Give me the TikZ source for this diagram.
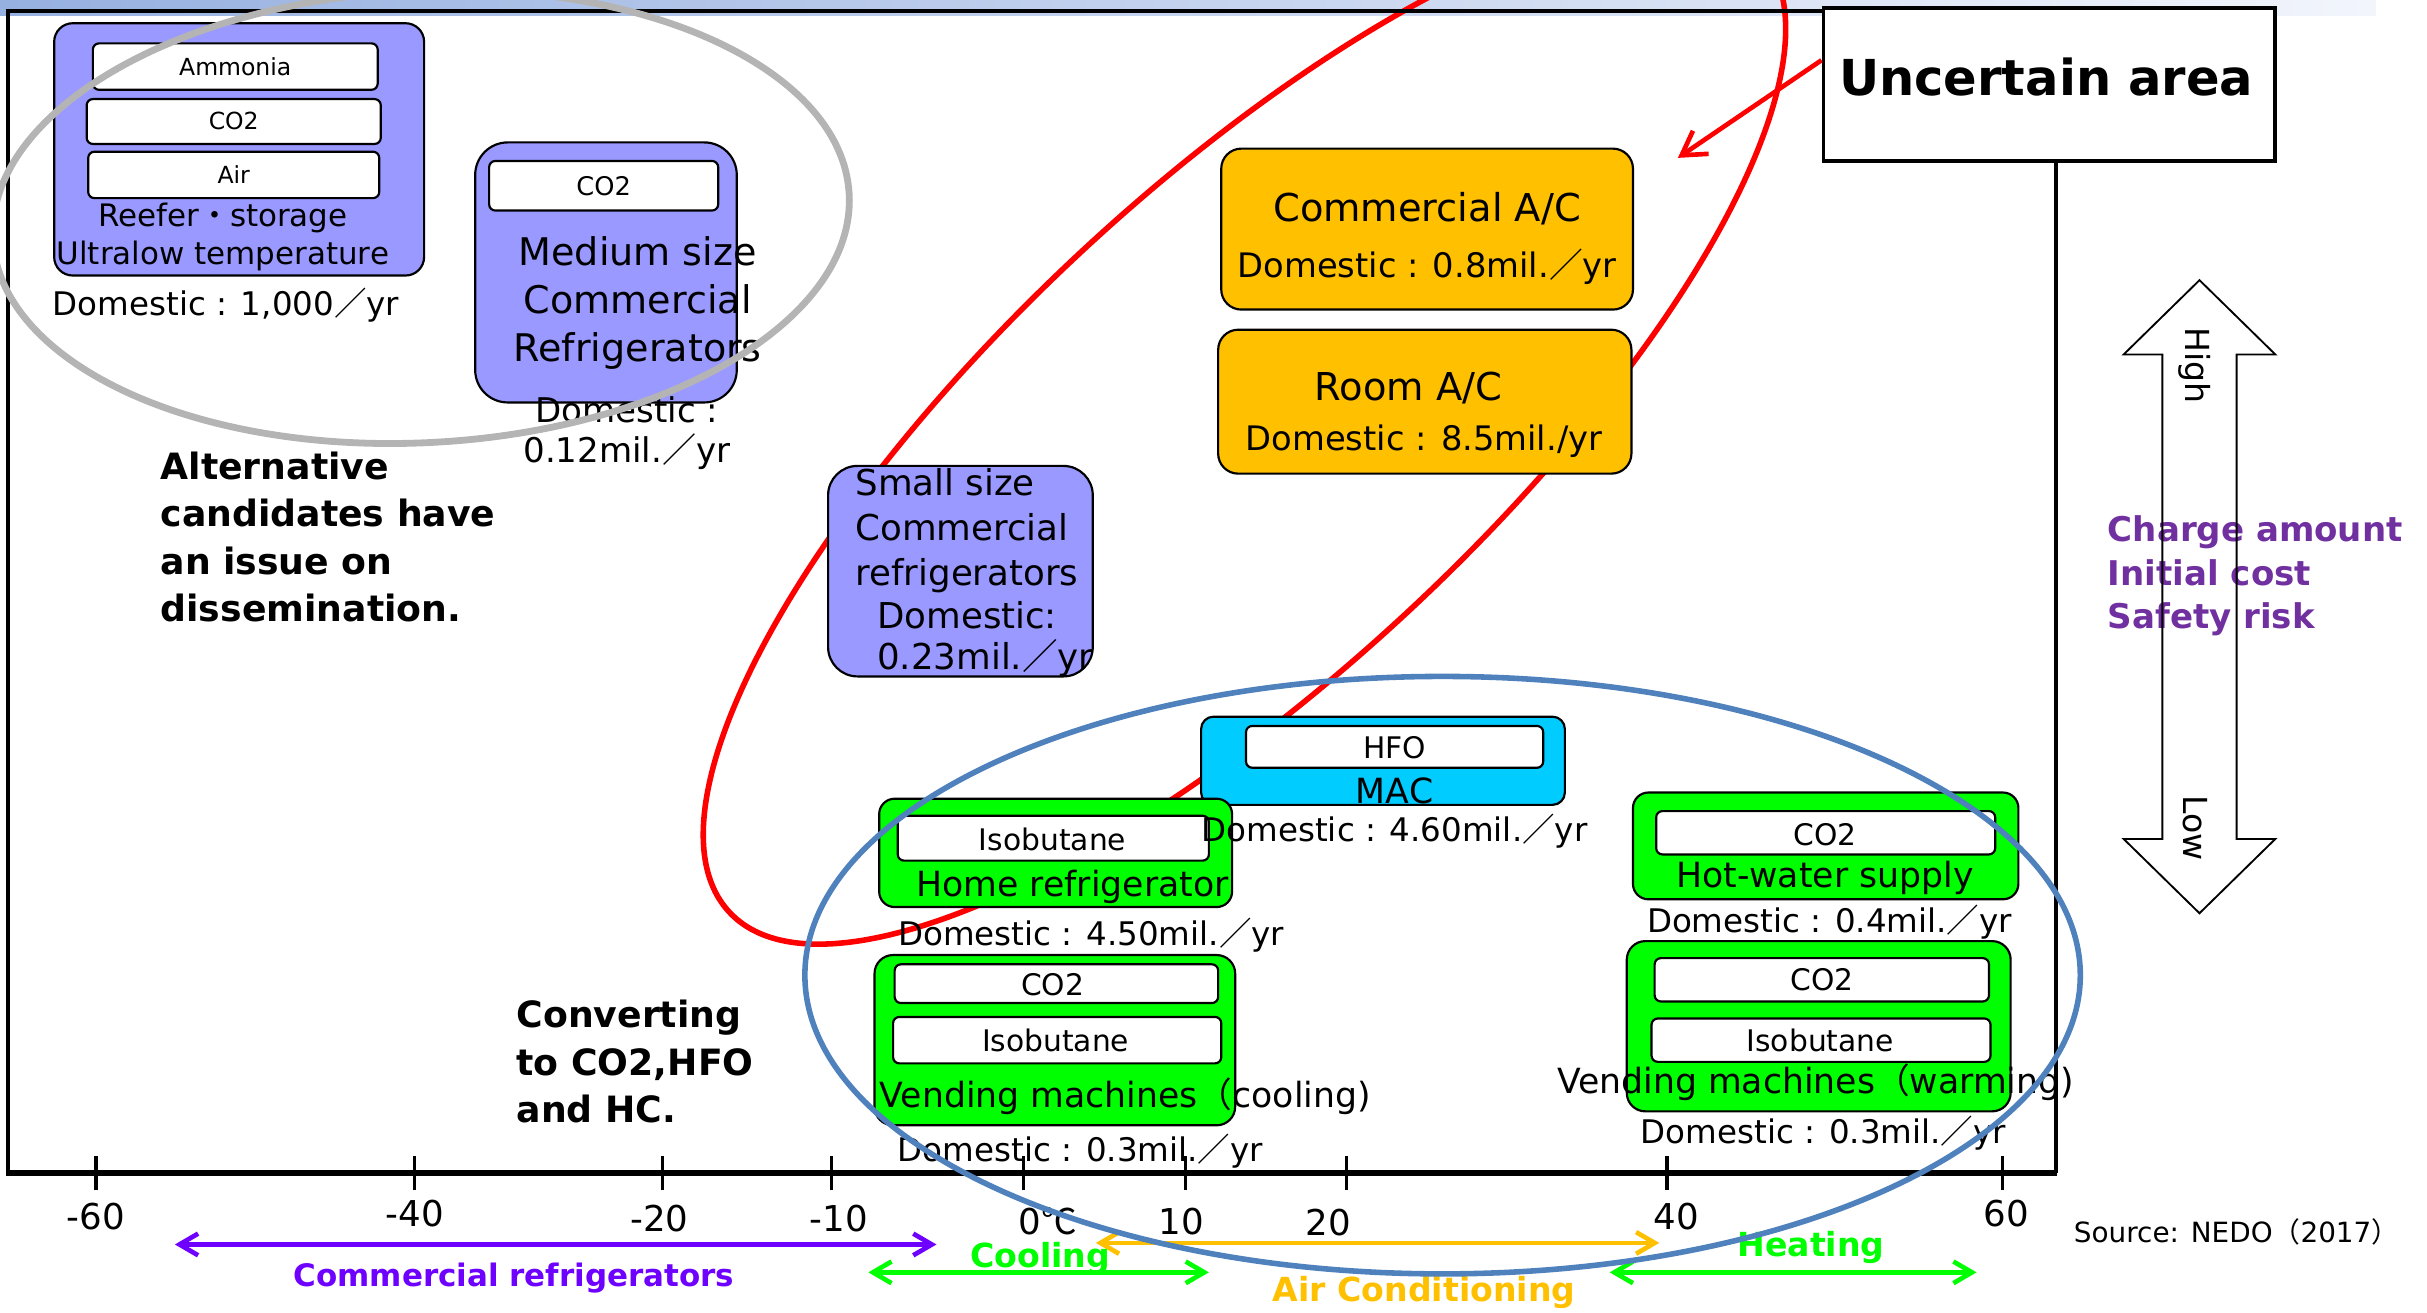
\documentclass[tikz,border=0pt]{standalone}
\usepackage{fontspec}
\setmainfont{DejaVu Sans}
\newfontfamily\cjk{Noto Sans CJK JP}
\usetikzlibrary{arrows.meta}

\newcommand{\zsl}{{\cjk ／}}
\newcommand{\zdot}{{\cjk ・}}
\newcommand{\zlp}{{\cjk （}}
\newcommand{\zrp}{{\cjk ）}}

\definecolor{boxpurple}{RGB}{153,153,255}
\definecolor{boxorange}{RGB}{255,192,0}
\definecolor{boxcyan}{RGB}{0,204,255}
\definecolor{boxgreen}{RGB}{0,255,0}
\definecolor{ringblue}{RGB}{79,129,189}
\definecolor{ringgray}{RGB}{180,180,180}
\definecolor{ringred}{RGB}{255,0,0}
\definecolor{notepurple}{RGB}{112,48,160}
\definecolor{rangeviolet}{RGB}{110,0,255}
\definecolor{bandleft}{RGB}{150,176,224}
\definecolor{bandright}{RGB}{242,245,252}

\tikzset{every picture/.style={line width=0.75pt}}
\tikzset{
  appbox/.style={draw=black, line width=0.7pt},
  gasbox/.style={draw=black, fill=white, line width=0.7pt, rounded corners=2pt},
  lbl/.style={inner sep=0.5pt, anchor=center},
  gassmall/.style={lbl, font=\fontsize{7.6}{9}\selectfont},
  gas/.style={lbl, font=\fontsize{9.6}{11}\selectfont},
  appname/.style={lbl, font=\fontsize{11.2}{13}\selectfont},
  domestic/.style={lbl, font=\fontsize{10.5}{13}\selectfont},
  note/.style={inner sep=0.5pt, anchor=west, align=left, font=\fontsize{11.7}{15.3}\selectfont\bfseries},
  ticklabel/.style={lbl, font=\fontsize{11.5}{13}\selectfont},
  rangelabel/.style={lbl, font=\fontsize{10.7}{13}\selectfont\bfseries},
  rangearrow/.style={line width=1.5pt, {Straight Barb[length=6pt,width=7pt]}-{Straight Barb[length=6pt,width=7pt]}},
  frameline/.style={draw=black, line width=1.3pt},
  tickline/.style={draw=black, line width=1pt},
}

\begin{document}
\begin{tikzpicture}[x=0.5pt,y=0.5pt,yscale=-1,xscale=1]
\useasboundingbox (0,0) rectangle (1568,848);
\clip (0,0) rectangle (1568,848);

%Shape: Band at the top
\shade[left color=bandleft, right color=bandright] (0,0) rectangle (1535,10);

%Shape: Ellipse (uncertain area)
\draw[ringred, line width=1.8pt, rotate around={-43:(804,279)}] (804,279) ellipse (455 and 157);

%Straight Lines: frame and axis
\draw[frameline] (5,758) -- (5,7) -- (1178,7);
\draw[frameline] (1328,104) -- (1328,758);
\draw[draw=black, line width=1.8pt] (4,758) -- (1329,758);

%Straight Lines: ticks
\draw[tickline] (62,747) -- (62,769);
\draw[tickline] (268,747) -- (268,769);
\draw[tickline] (428,747) -- (428,769);
\draw[tickline] (537,747) -- (537,769);
\draw[tickline] (661,747) -- (661,769);
\draw[tickline] (766,747) -- (766,769);
\draw[tickline] (870,747) -- (870,769);
\draw[tickline] (1077,747) -- (1077,769);
\draw[tickline] (1294,747) -- (1294,769);

%Shape: Rounded Rect, reefer
\draw[appbox, fill=boxpurple, rounded corners=6pt] (35,15) rectangle (274,178);
\draw[gasbox] (60,28) rectangle (244,58);
\draw[gasbox] (56,64) rectangle (246,93);
\draw[gasbox] (57,98) rectangle (245,128);
%Shape: Rounded Rect, medium size
\draw[appbox, fill=boxpurple, rounded corners=10.5pt] (307,92) rectangle (476,260);
\draw[gasbox] (316,104) rectangle (464,136);
%Shape: Rounded Rect, small size
\draw[appbox, fill=boxpurple, rounded corners=9.5pt] (535,301) rectangle (706,437);
%Shape: Rounded Rect, commercial A/C
\draw[appbox, fill=boxorange, rounded corners=6.5pt] (789,96) rectangle (1055,200);
%Shape: Rounded Rect, room A/C
\draw[appbox, fill=boxorange, rounded corners=6.5pt] (787,213) rectangle (1054,306);
%Shape: Rounded Rect, MAC
\draw[appbox, fill=boxcyan, rounded corners=4pt] (776,463) rectangle (1011,520);
\draw[gasbox] (805,469) rectangle (997,496);
%Shape: Rounded Rect, home refrigerator
\draw[appbox, fill=boxgreen, rounded corners=5pt] (568,516) rectangle (796,586);
\draw[gasbox] (580,527) rectangle (781,556);
%Shape: Rounded Rect, vending cooling
\draw[appbox, fill=boxgreen, rounded corners=6pt] (565,617) rectangle (798,727);
\draw[gasbox] (578,623) rectangle (787,648);
\draw[gasbox] (577,657) rectangle (789,687);
%Shape: Rounded Rect, hot-water
\draw[appbox, fill=boxgreen, rounded corners=5pt] (1055,512) rectangle (1304,581);
\draw[gasbox] (1070,524) rectangle (1289,552);
%Shape: Rounded Rect, vending warming
\draw[appbox, fill=boxgreen, rounded corners=6pt] (1051,608) rectangle (1299,718);
\draw[gasbox] (1069,619) rectangle (1285,647);
\draw[gasbox] (1067,658) rectangle (1286,686);

% Text Node
\node[gassmall] (ammonia) at (152,43) {Ammonia};
\node[gassmall] (reeferco) at (151,78) {CO2};
\node[gassmall] (air) at (151,113) {Air};
\node[lbl, align=center, font=\fontsize{10}{12.5}\selectfont] (reefer) at (144,153) {Reefer\zdot storage\\Ultralow temperature};
\node[domestic] (reeferdom) at (146,197) {Domestic : 1,000\zsl yr};
% Text Node
\node[lbl, font=\fontsize{8.3}{10}\selectfont] (mediumco) at (390,120) {CO2};
\node[lbl, align=center, font=\fontsize{12.3}{15.5}\selectfont] (medium) at (412,196) {Medium size\\Commercial\\Refrigerators};
\node[lbl, align=center, font=\fontsize{11}{13}\selectfont] (mediumdom) at (405,280) {Domestic :\\0.12mil.\zsl yr};
% Text Node
\node[inner sep=0.5pt, anchor=west, align=left, font=\fontsize{11.5}{14.5}\selectfont] (small) at (551,343) {Small size\\Commercial\\refrigerators};
\node[inner sep=0.5pt, anchor=west, align=left, font=\fontsize{11.5}{13.5}\selectfont] (smalldom) at (565,413) {Domestic:\\0.23mil.\zsl yr};
% Text Node
\node[lbl, font=\fontsize{12.4}{15}\selectfont] (comac) at (922,135) {Commercial A/C};
\node[lbl, font=\fontsize{10.9}{13}\selectfont] (comacdom) at (922,172) {Domestic : 0.8mil.\zsl yr};
\node[lbl, font=\fontsize{12.4}{15}\selectfont] (roomac) at (910,251) {Room A/C};
\node[lbl, font=\fontsize{10.9}{13}\selectfont] (roomacdom) at (920,285) {Domestic : 8.5mil./yr};
% Text Node
\node[gas] (hfo) at (901,483) {HFO};
\node[appname] (mac) at (901,511) {MAC};
\node[domestic] (macdom) at (901,537) {Domestic : 4.60mil.\zsl yr};
% Text Node
\node[gas] (homeiso) at (680,542) {Isobutane};
\node[appname] (home) at (693,573) {Home refrigerator};
\node[domestic] (homedom) at (705,604) {Domestic : 4.50mil.\zsl yr};
% Text Node
\node[gas] (coolco) at (680,636) {CO2};
\node[gas] (cooliso) at (682,672) {Isobutane};
\node[appname] (cool) at (727,708) {Vending machines\zlp cooling)};
\node[domestic] (cooldom) at (698,744) {Domestic : 0.3mil.\zsl yr};
% Text Node
\node[gas] (hotco) at (1179,539) {CO2};
\node[appname] (hot) at (1179,567) {Hot-water supply};
\node[domestic] (hotdom) at (1182,596) {Domestic : 0.4mil.\zsl yr};
% Text Node
\node[gas] (warmco) at (1177,633) {CO2};
\node[gas] (warmiso) at (1176,672) {Isobutane};
\node[appname] (warm) at (1173,699) {Vending machines\zlp warming)};
\node[domestic] (warmdom) at (1178,732) {Domestic : 0.3mil.\zsl yr};

% Text Node: notes
\node[note] (alternative) at (102,347) {Alternative\\candidates have\\an issue on\\dissemination.};
\node[note] (converting) at (332,686) {Converting\\to CO2,HFO\\and HC.};
\node[note, text=notepurple, font=\fontsize{11}{14}\selectfont\bfseries] (charge) at (1360,372) {Charge amount\\Initial cost\\Safety risk};

%Shape: Ellipse (alternatives)
\draw[ringgray, line width=2.2pt, rotate around={-3:(272,140)}] (272,140) ellipse (277 and 146);

% Uncertain area box and arrow
\node[draw=black, fill=white, line width=1.2pt, minimum width=146pt, minimum height=49.5pt, inner sep=0pt] (uncertain) at (1324,54.5) {};
\node[lbl, font=\fontsize{16}{19}\selectfont\bfseries] (uncertaintext) at (1322,50) {Uncertain area};
\coordinate (acpoint) at (1084,102);
\draw[ringred, line width=1.5pt, -{Straight Barb[length=7.5pt,width=9pt]}] ([yshift=-7.8pt]uncertain.west) -- (acpoint);

%Shape: Up Down Arrow
\draw[line width=0.6pt] (1421,181) -- (1470,229) -- (1445,229) -- (1445,542) -- (1470,542) -- (1421,590) -- (1372,542) -- (1397,542) -- (1397,229) -- (1372,229) -- cycle;
\node[lbl, rotate=-90, font=\fontsize{10.7}{13}\selectfont] (high) at (1418,236) {High};
\node[lbl, rotate=-90, font=\fontsize{10.7}{13}\selectfont] (low) at (1418,535) {Low};

% Text Node: tick labels
\node[ticklabel] (tm60) at (62,786) {-60};
\node[ticklabel] (tm40) at (268,784) {-40};
\node[ticklabel] (tm20) at (426,787) {-20};
\node[ticklabel] (tm10) at (542,787) {-10};
\node[ticklabel] (tzero) at (677,789) {0{\cjk ℃}};
\node[ticklabel] (tp10) at (763,789) {10};
\node[ticklabel] (tp20) at (858,790) {20};
\node[ticklabel] (tp40) at (1083,786) {40};
\node[ticklabel] (tp60) at (1296,784) {60};

% Ranges
\coordinate (crefl) at (113,804);
\coordinate (crefr) at (605,804);
\draw[rangearrow, rangeviolet] (crefl) -- (crefr);
\node[rangelabel, text=rangeviolet, font=\fontsize{10}{12}\selectfont\bfseries] (creflabel) at (332,826) {Commercial refrigerators};
\coordinate (acl) at (708,803);
\coordinate (acr) at (1072,803);
\draw[rangearrow, boxorange] (acl) -- (acr);
\node[rangelabel, text=boxorange] (aclabel) at (920,835) {Air Conditioning};
\coordinate (cooll) at (561,822);
\coordinate (coolr) at (781,822);
\draw[rangearrow, boxgreen] (cooll) -- (coolr);
\node[rangelabel, text=boxgreen] (coollabel) at (672,813) {Cooling};
\coordinate (heatl) at (1040,822);
\coordinate (heatr) at (1277,822);
\draw[rangearrow, boxgreen] (heatl) -- (heatr);
\node[rangelabel, text=boxgreen] (heatlabel) at (1170,806) {Heating};

%Shape: Ellipse (converting)
\draw[ringblue, line width=1.8pt] (932,630) ellipse (412 and 193);

% Text Node
\node[lbl, font=\fontsize{9}{11}\selectfont] (source) at (1445,796) {Source: NEDO\zlp 2017\zrp};

\end{tikzpicture}
\end{document}
